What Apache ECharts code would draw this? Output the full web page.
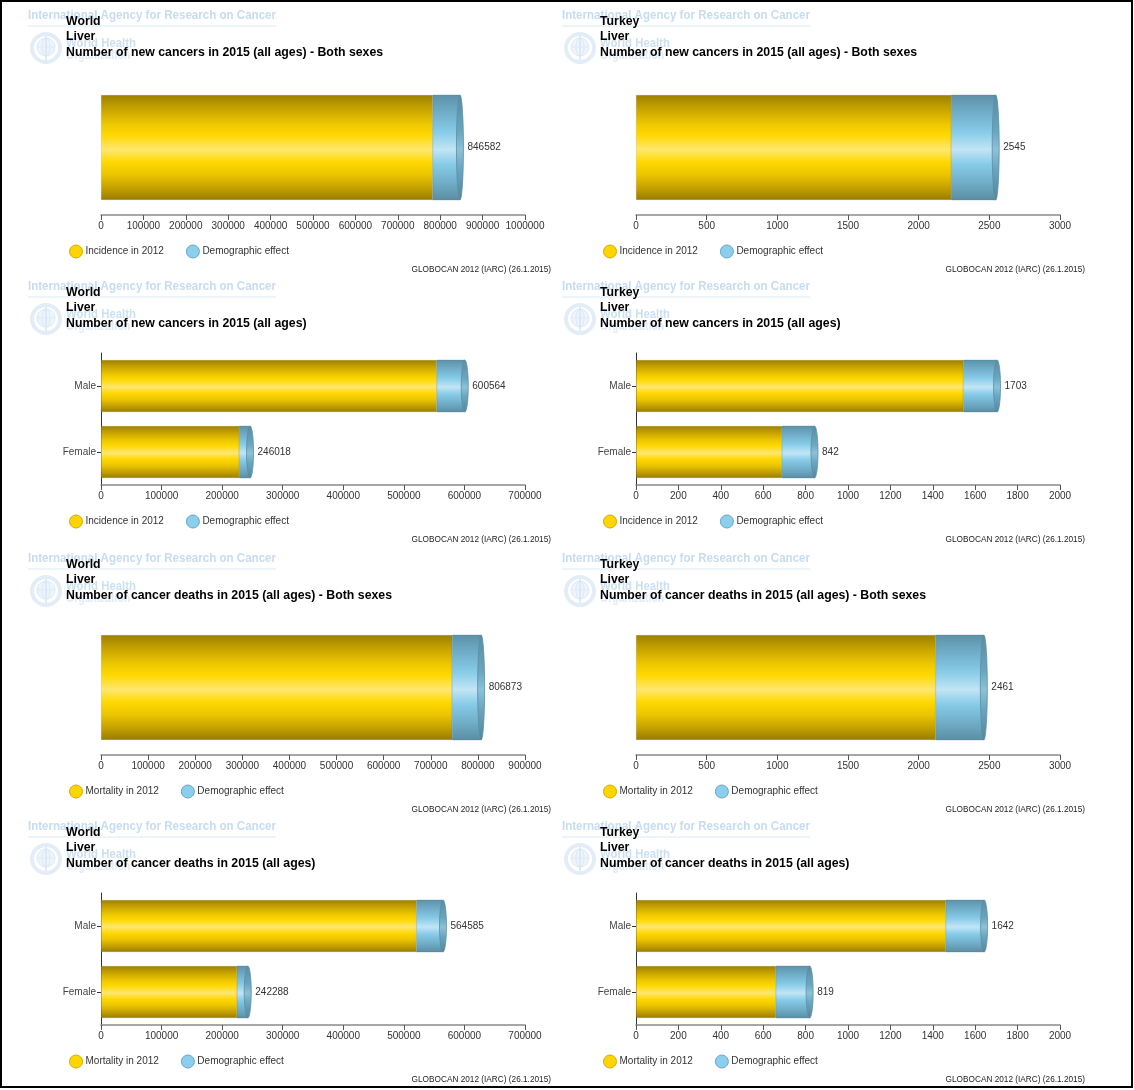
<!DOCTYPE html>
<html>
<head>
<meta charset="utf-8">
<title>Liver cancer – World and Turkey, 2015 estimates</title>
<script src="https://cdn.jsdelivr.net/npm/echarts@6/dist/echarts.min.js"></script>
<style>
  html, body { margin: 0; padding: 0; background: #fff; }
  #chart { width: 1134px; height: 1090px; }
</style>
</head>
<body>
<div id="chart"></div>
<script>
// ---- Data (GLOBOCAN 2012, projections to 2015) ----
const bothCategory = [''];
const sexCategories = ['Male', 'Female'];

const worldIncidence2012Both = [782451];
const worldIncidence2015Both = [846582];
const turkeyIncidence2012Both = [2230];
const turkeyIncidence2015Both = [2545];

const worldIncidence2012BySex = [554369, 228082];
const worldIncidence2015BySex = [600564, 246018];
const turkeyIncidence2012BySex = [1544, 689];
const turkeyIncidence2015BySex = [1703, 842];

const worldMortality2012Both = [745533];
const worldMortality2015Both = [806873];
const turkeyMortality2012Both = [2120];
const turkeyMortality2015Both = [2461];

const worldMortality2012BySex = [521031, 224502];
const worldMortality2015BySex = [564585, 242288];
const turkeyMortality2012BySex = [1461, 660];
const turkeyMortality2015BySex = [1642, 819];

const worldAxisMax = [1000000, 700000, 900000, 700000];
const worldAxisStep = [100000, 100000, 100000, 100000];
const turkeyAxisMax = [3000, 2000, 3000, 2000];
const turkeyAxisStep = [500, 200, 500, 200];

const incidenceName = 'Incidence in 2012';
const mortalityName = 'Mortality in 2012';
const demographicName = 'Demographic effect';
const sourceText = 'GLOBOCAN 2012 (IARC) (26.1.2015)';
const siteName = 'Liver';
const titleNewBoth = 'Number of new cancers in 2015 (all ages) - Both sexes';
const titleNewSex = 'Number of new cancers in 2015 (all ages)';
const titleDeathBoth = 'Number of cancer deaths in 2015 (all ages) - Both sexes';
const titleDeathSex = 'Number of cancer deaths in 2015 (all ages)';

// ---- Panel descriptions ----
const panels = [
  { row: 0, col: 0, region: 'World',  heading: titleNewBoth,   cats: bothCategory,  base: worldIncidence2012Both,   total: worldIncidence2015Both,   baseName: incidenceName },
  { row: 0, col: 1, region: 'Turkey', heading: titleNewBoth,   cats: bothCategory,  base: turkeyIncidence2012Both,  total: turkeyIncidence2015Both,  baseName: incidenceName },
  { row: 1, col: 0, region: 'World',  heading: titleNewSex,    cats: sexCategories, base: worldIncidence2012BySex,  total: worldIncidence2015BySex,  baseName: incidenceName },
  { row: 1, col: 1, region: 'Turkey', heading: titleNewSex,    cats: sexCategories, base: turkeyIncidence2012BySex, total: turkeyIncidence2015BySex, baseName: incidenceName },
  { row: 2, col: 0, region: 'World',  heading: titleDeathBoth, cats: bothCategory,  base: worldMortality2012Both,   total: worldMortality2015Both,   baseName: mortalityName },
  { row: 2, col: 1, region: 'Turkey', heading: titleDeathBoth, cats: bothCategory,  base: turkeyMortality2012Both,  total: turkeyMortality2015Both,  baseName: mortalityName },
  { row: 3, col: 0, region: 'World',  heading: titleDeathSex,  cats: sexCategories, base: worldMortality2012BySex,  total: worldMortality2015BySex,  baseName: mortalityName },
  { row: 3, col: 1, region: 'Turkey', heading: titleDeathSex,  cats: sexCategories, base: turkeyMortality2012BySex, total: turkeyMortality2015BySex, baseName: mortalityName }
];

// ---- Layout ----
const FONT = '"Liberation Sans", Arial, Helvetica, sans-serif';
const ROW_H = 270;
const COL_W = 534;
const GRID_LEFT = [101, 636];
const GRID_W = 424;
const HEADER_TOP = [13.5, 284.5, 556.5, 824.5];

const goldFill = new echarts.graphic.LinearGradient(0, 0, 0, 1, [
  { offset: 0.00, color: '#9c8000' },
  { offset: 0.12, color: '#c4a000' },
  { offset: 0.28, color: '#eec800' },
  { offset: 0.38, color: '#ffd800' },
  { offset: 0.52, color: '#ffe670' },
  { offset: 0.64, color: '#ffd800' },
  { offset: 0.76, color: '#ebc500' },
  { offset: 0.90, color: '#c09c00' },
  { offset: 1.00, color: '#977b00' }
]);
const blueStops = [
  { offset: 0.00, color: '#5d91a8' },
  { offset: 0.15, color: '#6eaac4' },
  { offset: 0.35, color: '#86cbe8' },
  { offset: 0.52, color: '#c2e5f5' },
  { offset: 0.66, color: '#86cbe8' },
  { offset: 0.85, color: '#6eaac4' },
  { offset: 1.00, color: '#5a8da3' }
];
const blueFill = new echarts.graphic.LinearGradient(0, 0, 0, 1, blueStops);
const capFill = new echarts.graphic.LinearGradient(0, 0, 0, 1, [
  { offset: 0.00, color: '#5a8ca2' },
  { offset: 0.35, color: '#6aa6bf' },
  { offset: 0.52, color: '#8dc1d8' },
  { offset: 0.70, color: '#6aa6bf' },
  { offset: 1.00, color: '#55869b' }
]);

// width of the watermark lettering, used to squeeze it into its banner
const measureCtx = document.createElement('canvas').getContext('2d');
function textWidth(str, font) { measureCtx.font = font; return measureCtx.measureText(str).width; }
const iarcText = 'International Agency for Research on Cancer';
const iarcScale = 248 / textWidth(iarcText, 'bold 13px ' + FONT);
const whoText = 'World Health';
const whoScale = 70 / textWidth(whoText, 'bold 13px ' + FONT);

// the demographic segment is drawn as a cylinder: body from the 2012 value
// to the 2015 total, closed by an elliptical end cap, with the total beside it
function cylinderEnd(barW) {
  return function (params, api) {
    const cat = api.value(0);
    const from = api.coord([api.value(1), cat]);
    const to = api.coord([api.value(2), cat]);
    const cy = from[1];
    const top = cy - barW / 2;
    const capR = 3.5;
    return {
      type: 'group',
      children: [
        { type: 'rect', shape: { x: from[0], y: top, width: to[0] - from[0], height: barW },
          style: { fill: blueFill, stroke: 'rgba(70,120,145,0.45)', lineWidth: 0.6 } },
        { type: 'ellipse', shape: { cx: to[0], cy: cy, rx: capR, ry: barW / 2 },
          style: { fill: capFill, stroke: '#5b8ea5', lineWidth: 0.8 } },
        { type: 'text', x: to[0] + capR + 4, y: cy,
          style: { text: String(api.value(2)), font: '10px ' + FONT, fill: '#333',
                   textVerticalAlign: 'middle', textAlign: 'left' } }
      ]
    };
  };
}

const grids = [], xAxes = [], yAxes = [], series = [], titles = [], legends = [], graphics = [];

panels.forEach((p, i) => {
  const ox = p.col * COL_W;
  const oy = p.row * ROW_H;
  const axisY = 215 + oy;
  const twoBars = p.cats.length > 1;
  const gridH = twoBars ? 132 : 135;
  const isWorld = p.col === 0;

  grids.push({ left: GRID_LEFT[p.col], width: GRID_W, top: axisY - gridH, height: gridH, containLabel: false, outerBoundsMode: 'none' });

  xAxes.push({
    gridIndex: i, type: 'value', min: 0,
    max: isWorld ? worldAxisMax[p.row] : turkeyAxisMax[p.row],
    interval: isWorld ? worldAxisStep[p.row] : turkeyAxisStep[p.row],
    splitLine: { show: false },
    axisLine: { show: true, lineStyle: { color: '#8a8a8a', width: 1.5 } },
    axisTick: { show: true, length: 5, lineStyle: { color: '#555' } },
    axisLabel: { margin: 6, fontSize: 10, color: '#333', fontFamily: FONT, hideOverlap: false,
                 formatter: (v) => String(v) }
  });

  yAxes.push({
    gridIndex: i, type: 'category', data: p.cats, inverse: true,
    axisLine: { show: twoBars, lineStyle: { color: '#333', width: 1 } },
    axisTick: { show: twoBars, length: 4, alignWithLabel: true, lineStyle: { color: '#333' } },
    axisLabel: { show: twoBars, margin: 5, fontSize: 10, color: '#444', fontFamily: FONT }
  });

  const barW = twoBars ? 52 : 105;
  series.push({
    type: 'bar', name: p.baseName, xAxisIndex: i, yAxisIndex: i,
    barWidth: barW, barGap: '-100%', data: p.base,
    itemStyle: { color: goldFill, borderColor: 'rgba(120,100,0,0.25)', borderWidth: 0.5 },
    emphasis: { disabled: true }, animation: false, z: 2
  });
  series.push({
    type: 'custom', name: demographicName, xAxisIndex: i, yAxisIndex: i,
    data: p.total.map((t, k) => [k, p.base[k], t]),
    encode: { y: 0, x: [1, 2] },
    renderItem: cylinderEnd(barW),
    emphasis: { disabled: true }, animation: false, z: 3, clip: false
  });

  titles.push({
    text: p.region + '\n' + siteName + '\n' + p.heading,
    left: 66 + ox, top: HEADER_TOP[p.row], padding: 0, z: 10,
    textStyle: { fontSize: 12.3, fontWeight: 'bold', color: '#000', fontFamily: FONT, lineHeight: 15.5 }
  });

  legends.push({
    left: 69 + ox, top: 244.5 + oy, padding: 0, orient: 'horizontal',
    itemWidth: 13, itemHeight: 13, itemGap: 22, icon: 'circle',
    textStyle: { fontSize: 10, color: '#333', fontFamily: FONT, padding: [0, 0, 0, -2] },
    selectedMode: false,
    data: [
      { name: p.baseName, icon: 'circle', itemStyle: { color: '#ffd500', borderColor: '#d7aa00', borderWidth: 1 } },
      { name: demographicName, icon: 'circle', itemStyle: { color: '#8ccfec', borderColor: '#67a7c4', borderWidth: 1 } }
    ]
  });

  // IARC / WHO watermark behind the heading
  const wy = HEADER_TOP[p.row] + 1.5;
  graphics.push({
    type: 'group', x: 28 + ox, y: wy, z: 1, silent: true,
    children: [
      { type: 'text', x: 0, y: 0, scaleX: iarcScale,
        style: { text: iarcText, font: 'bold 13px ' + FONT, fill: '#c7dcf0', textVerticalAlign: 'middle' } },
      { type: 'line', shape: { x1: 0, y1: 11, x2: 248, y2: 11 }, style: { stroke: '#dae8f5', lineWidth: 1 } },
      // emblem: globe inside a laurel ring
      { type: 'circle', shape: { cx: 18, cy: 33, r: 14 }, style: { fill: 'none', stroke: '#e3edf8', lineWidth: 4 } },
      { type: 'circle', shape: { cx: 18, cy: 32, r: 9 }, style: { fill: '#edf4fb', stroke: '#dce9f6', lineWidth: 1 } },
      { type: 'ellipse', shape: { cx: 18, cy: 32, rx: 4, ry: 9 }, style: { fill: 'none', stroke: '#dce9f6', lineWidth: 1 } },
      { type: 'line', shape: { x1: 9, y1: 32, x2: 27, y2: 32 }, style: { stroke: '#dce9f6', lineWidth: 1 } },
      { type: 'line', shape: { x1: 18, y1: 21, x2: 18, y2: 45 }, style: { stroke: '#d6e5f4', lineWidth: 1.5 } },
      { type: 'text', x: 38, y: 28, scaleX: whoScale,
        style: { text: whoText, font: 'bold 13px ' + FONT, fill: '#cde0f2', textVerticalAlign: 'middle' } },
      { type: 'text', x: 38, y: 41, scaleX: whoScale,
        style: { text: 'Organization', font: 'bold 12px ' + FONT, fill: '#dfebf7', textVerticalAlign: 'middle' } }
    ]
  });

  graphics.push({
    type: 'text', x: 551 + ox, y: 270 + oy, z: 5, silent: true,
    style: { text: sourceText, font: '8.25px ' + FONT, fill: '#222', textAlign: 'right', textVerticalAlign: 'middle' }
  });
});

// page frame
graphics.push({
  type: 'rect', z: 20, silent: true,
  shape: { x: 1, y: 1, width: 1131, height: 1086 },
  style: { fill: 'none', stroke: '#000', lineWidth: 2 }
});

const chart = echarts.init(document.getElementById('chart'), null, { renderer: 'canvas' });
chart.setOption({
  backgroundColor: '#fff',
  animation: false,
  title: titles,
  legend: legends,
  grid: grids,
  xAxis: xAxes,
  yAxis: yAxes,
  series: series,
  graphic: graphics
});
</script>
</body>
</html>
